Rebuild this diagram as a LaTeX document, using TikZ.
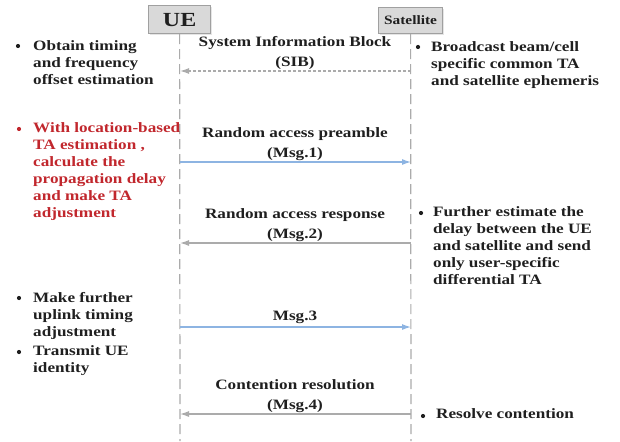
\documentclass[tikz,border=0pt]{standalone}
\usepackage{fontspec}
\setmainfont[FakeStretch=1.2]{Liberation Serif}
\usetikzlibrary{arrows.meta}
\definecolor{txt}{HTML}{1F1F1F}
\definecolor{redt}{HTML}{C1272D}
\definecolor{bluel}{HTML}{8DB4E2}
\definecolor{grayl}{HTML}{ABABAB}
\definecolor{boxf}{HTML}{D9D9D9}
\definecolor{boxd}{HTML}{A0A0A0}
\tikzset{
  body/.style={font=\fontsize{14.3}{17}\selectfont\bfseries, text=txt, align=left, inner sep=0pt, anchor=north west},
  lbl/.style={font=\fontsize{14.3}{19.5}\selectfont\bfseries, text=txt, align=center, inner sep=0pt},
  bul/.style={circle, fill=txt, inner sep=0pt, minimum size=4.2pt},
  actor/.style={draw=boxd, fill=boxf, line width=1.2pt, inner sep=0pt},
  life/.style={draw=grayl, line width=1.2pt, dash pattern=on 10pt off 5pt},
  msgb/.style={draw=bluel, line width=1.2pt, -{Latex[length=9pt,width=6pt]}},
  msgg/.style={draw=grayl, line width=1.2pt, -{Latex[length=9pt,width=6pt]}},
  msgd/.style={draw=grayl, line width=1.2pt, dash pattern=on 3pt off 2pt, -{Latex[length=9pt,width=6pt]}}
}
\begin{document}
\begin{tikzpicture}[x=1pt,y=-1pt]
\useasboundingbox (0,0) rectangle (620,441);
% actors
\fill[gray!20] (150,7) rectangle (212,35);
\node[actor, minimum width=62pt, minimum height=28pt, anchor=north west] (ue) at (148,5) {\fontsize{20}{20}\selectfont\bfseries\color{txt}UE};
\fill[gray!20] (380,9) rectangle (444,35);
\node[actor, minimum width=64pt, minimum height=26pt, anchor=north west] (sat) at (378,7) {\fontsize{12.8}{13}\selectfont\bfseries\color{txt}Satellite};
% lifelines
\coordinate (ueend) at (180,441);
\coordinate (satend) at (411,441);
\draw[life] (ue.south) -- (ueend);
\draw[life] (sat.south) -- (satend);
% message points
\coordinate (s0) at (411,71);  \coordinate (u0) at (180,71);
\coordinate (u1) at (180,162); \coordinate (s1) at (411,162);
\coordinate (s2) at (411,243); \coordinate (u2) at (180,243);
\coordinate (u3) at (180,327); \coordinate (s3) at (411,327);
\coordinate (s4) at (411,414); \coordinate (u4) at (180,414);
\draw[msgd] (s0) -- (u0);
\draw[msgb] (u1) -- (s1);
\draw[msgg] (s2) -- (u2);
\draw[msgb] (u3) -- (s3);
\draw[msgg] (s4) -- (u4);
% message labels
\node[lbl] (l0) at (295,53) {System Information Block\\(SIB)};
\node[lbl] (l1) at (295,144) {Random access preamble\\(Msg.1)};
\node[lbl] (l2) at (295,225) {Random access response\\(Msg.2)};
\node[lbl] (l3) at (295,317) {Msg.3};
\node[lbl] (l4) at (295,396) {Contention resolution\\(Msg.4)};
% left notes
\node[bul] (b1) at (18,46) {};
\node[body] (t1) at (33,40) {Obtain timing\\and frequency\\offset estimation};
\node[bul, fill=redt] (b2) at (19,129) {};
\node[body, text=redt] (t2) at (33,122) {With location-based\\TA estimation ,\\calculate the\\propagation delay\\and make TA\\adjustment};
\node[bul] (b3) at (19,298) {};
\node[body] (t3) at (33,292) {Make further\\uplink timing\\adjustment};
\node[bul] (b4) at (19,352) {};
\node[body] (t4) at (33,345) {Transmit UE\\identity};
% right notes
\node[bul] (b5) at (418,47) {};
\node[body] (t5) at (431,41) {Broadcast beam/cell\\specific common TA\\and satellite ephemeris};
\node[bul] (b6) at (421,213) {};
\node[body] (t6) at (433,206) {Further estimate the\\delay between the UE\\and satellite and send\\only user-specific\\differential TA};
\node[bul] (b7) at (423,416) {};
\node[body] (t7) at (436,408) {Resolve contention};
\end{tikzpicture}
\end{document}
